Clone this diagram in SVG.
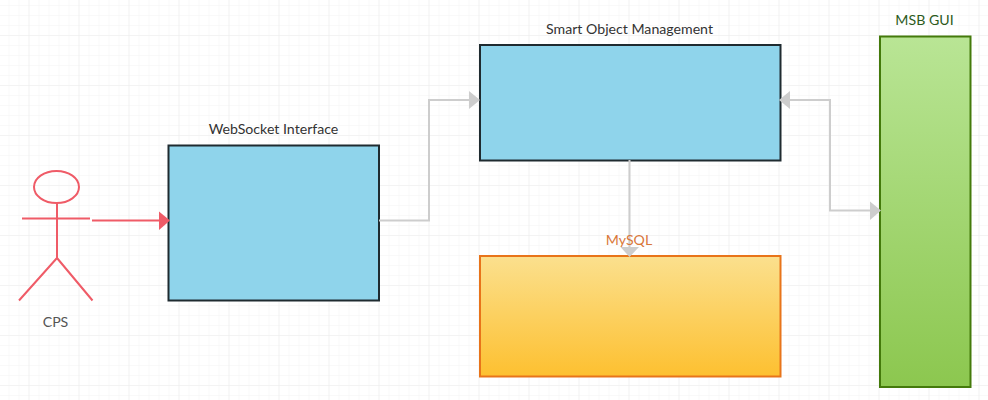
<svg xmlns="http://www.w3.org/2000/svg" width="988" height="400" viewBox="0 0 988 400">
<style>
text{font-family:Lato,"Liberation Sans",sans-serif;font-size:14.15px;text-anchor:middle}
.n{stroke:#1f2b30;stroke-width:2;fill:#8fd4eb}
.c{fill:none;stroke:#cdcdcd;stroke-width:2}
.p{fill:none;stroke:#ef5b67;stroke-width:2}
</style>
<defs>
<pattern id="g1" width="10" height="10" patternUnits="userSpaceOnUse" x="-1.500" y="-5"><path d="M0 0H10M0 0V10" fill="none" stroke="#f4f4f4" stroke-width="1"/></pattern>
<pattern id="g2" width="50" height="50" patternUnits="userSpaceOnUse" x="-21.500" y="-15"><path d="M0 0H50M0 0V50" fill="none" stroke="#ededed" stroke-width="1"/></pattern>
<linearGradient id="y" x1="0" y1="0" x2="0" y2="1"><stop offset="0" stop-color="#fbe08e"/><stop offset="1" stop-color="#fdc030"/></linearGradient>
<linearGradient id="gr" x1="0" y1="0" x2="0" y2="1"><stop offset="0" stop-color="#b9e595"/><stop offset="1" stop-color="#8cc74f"/></linearGradient>
</defs>
<rect width="988" height="400" fill="#fff"/>
<rect width="988" height="400" fill="url(#g1)"/>
<rect width="988" height="400" fill="url(#g2)"/>
<g id="websocket"><rect class="n" x="168.500" y="145.500" width="210.500" height="155"/><text x="273.500" y="134" fill="#333">WebSocket Interface</text></g>
<g id="smart-object"><rect class="n" x="480" y="45" width="300.500" height="115.500"/><text x="629.500" y="34" fill="#333">Smart Object Management</text></g>
<g id="mysql"><rect x="480" y="256" width="300.500" height="120.500" fill="url(#y)" stroke="#e8741a" stroke-width="2"/></g>
<g id="msb-gui"><rect x="880" y="36.500" width="90.500" height="350.500" fill="url(#gr)" stroke="#447a0b" stroke-width="2"/><text x="924.500" y="25" fill="#2d5a1b">MSB GUI</text></g>
<g id="cps">
<ellipse class="p" cx="56.500" cy="187" rx="22.500" ry="16"/>
<path class="p" d="M22 218.500H90M57 203V258M57 258L19 300.500M57 258L92.500 300.500"/>
<text x="55.500" y="327" fill="#555">CPS</text>
</g>
<g id="connectors">
<path class="p" d="M92 220.500H160"/><path d="M159 211.500L170 220.500L159 230Z" fill="#ef5b67"/>
<path class="c" d="M379 220.500H429V100H470"/><path d="M469 91L480 100L469 109Z" fill="#cdcdcd"/>
<path class="c" d="M629.500 160V247"/><path d="M620.500 247H639L629.500 257Z" fill="#cdcdcd"/>
<path class="c" d="M789 100H830V210.500H871"/><path d="M790 91L779 100L790 109Z" fill="#cdcdcd"/><path d="M870 201.500L881 210.500L870 220Z" fill="#cdcdcd"/>
</g>
<text x="629" y="245" fill="#d9773a">MySQL</text>
</svg>
